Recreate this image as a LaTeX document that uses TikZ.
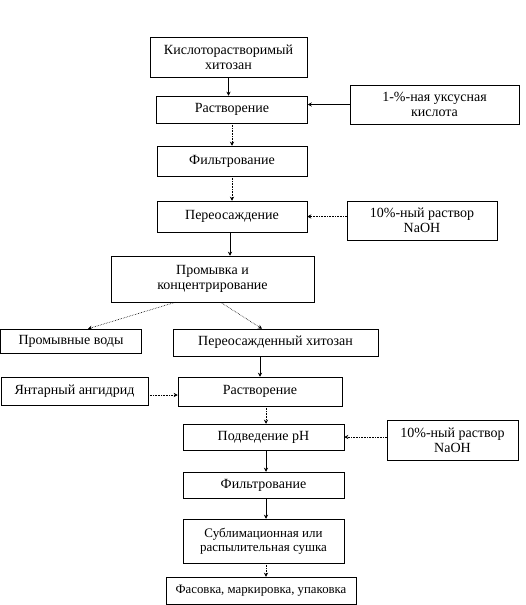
\documentclass[tikz,border=0pt]{standalone}
\usepackage{fontspec}
\setmainfont{Liberation Serif}
\usetikzlibrary{arrows.meta, shadows}

\begin{document}
\begin{tikzpicture}[x=1pt, y=-1pt,
    box/.style={draw, line width=0.5pt, fill=white, align=center, inner sep=1pt,
                font=\fontsize{14}{15}\selectfont,
                drop shadow={shadow xshift=0.8pt, shadow yshift=-0.8pt, fill=black, opacity=1}},
    arrow/.style={-{Stealth[length=4pt, width=4pt]}, line width=0.6pt},
    dotarrow/.style={arrow, densely dotted}
  ]
    \useasboundingbox (0,0) rectangle (526,605);

    % main line
    \node[box, minimum width=157pt, minimum height=40pt] (chit) at (228.5,57) {Кислоторастворимый\\хитозан};
    \node[box, minimum width=151pt, minimum height=27pt] (diss) at (232,109.5) {Растворение};
    \node[box, minimum width=169pt, minimum height=39pt] (acid) at (434.5,104.5) {1-\%-ная уксусная\\кислота};
    \node[box, minimum width=150pt, minimum height=30pt] (filt) at (232,161) {Фильтрование};
    \node[box, minimum width=150pt, minimum height=31pt] (prec) at (232,216.5) {Переосаждение};
    \node[box, minimum width=150pt, minimum height=39pt] (naoh) at (422,220.5) {10\%-ный раствор\\NaOH};
    \node[box, minimum width=203pt, minimum height=46pt] (wash) at (212.5,279) {Промывка и\\концентрирование};
    \node[box, minimum width=141pt, minimum height=24pt] (water) at (71,341) {Промывные воды};
    \node[box, minimum width=205pt, minimum height=27pt] (reprec) at (275.5,342.5) {Переосажденный хитозан};

    % second stage
    \node[box, minimum width=147pt, minimum height=28pt] (succ) at (74.5,391) {Янтарный ангидрид};
    \node[box, minimum width=164pt, minimum height=29pt] (diss2) at (260,391.5) {Растворение};
    \node[box, minimum width=161pt, minimum height=26pt] (ph) at (263.5,437) {Подведение рН};
    \node[box, minimum width=131pt, minimum height=40pt] (naoh2) at (452.5,440) {10\%-ный раствор\\NaOH};
    \node[box, minimum width=161pt, minimum height=26pt] (filt2) at (263.5,485) {Фильтрование};
    \node[box, minimum width=161pt, minimum height=44pt, font=\fontsize{13}{14}\selectfont] (dry) at (263.5,541) {Сублимационная или\\распылительная сушка};
    \node[box, minimum width=190pt, minimum height=27pt, font=\fontsize{12.8}{14}\selectfont] (pack) at (261,590.5) {Фасовка, маркировка, упаковка};

    \draw[arrow] (chit.south) -- (chit.south |- diss.north);
    \draw[arrow] (acid.west) -- (acid.west -| diss.east);
    \draw[dotarrow] (diss.south) -- (filt.north);
    \draw[dotarrow] (filt.south) -- (prec.north);
    \draw[dotarrow] (naoh.west |- prec.east) -- (prec.east);
    \draw[arrow] ([xshift=-2pt]prec.south) -- ([xshift=-2pt]prec.south |- wash.north);
    \draw[dotarrow] ([xshift=-37pt]wash.south) -- ([xshift=17pt]water.north);
    \draw[dotarrow] ([xshift=8pt]wash.south) -- ([xshift=-13.5pt]reprec.north);
    \draw[arrow] ([xshift=-15.5pt]reprec.south) -- (diss2.north);
    \draw[dotarrow] ([yshift=-4pt]succ.east) -- ([yshift=-4pt]succ.east -| diss2.west);
    \draw[dotarrow] ([xshift=6pt]diss2.south) -- ([xshift=6pt]diss2.south |- ph.north);
    \draw[dotarrow] (naoh2.west |- ph.east) -- (ph.east);
    \draw[arrow] ([xshift=2.5pt]ph.south) -- ([xshift=2.5pt]filt2.north);
    \draw[arrow] ([xshift=2.5pt]filt2.south) -- ([xshift=2.5pt]dry.north);
    \draw[dotarrow] ([xshift=2.5pt]dry.south) -- ([xshift=5pt]pack.north);
  \end{tikzpicture}
\end{document}
